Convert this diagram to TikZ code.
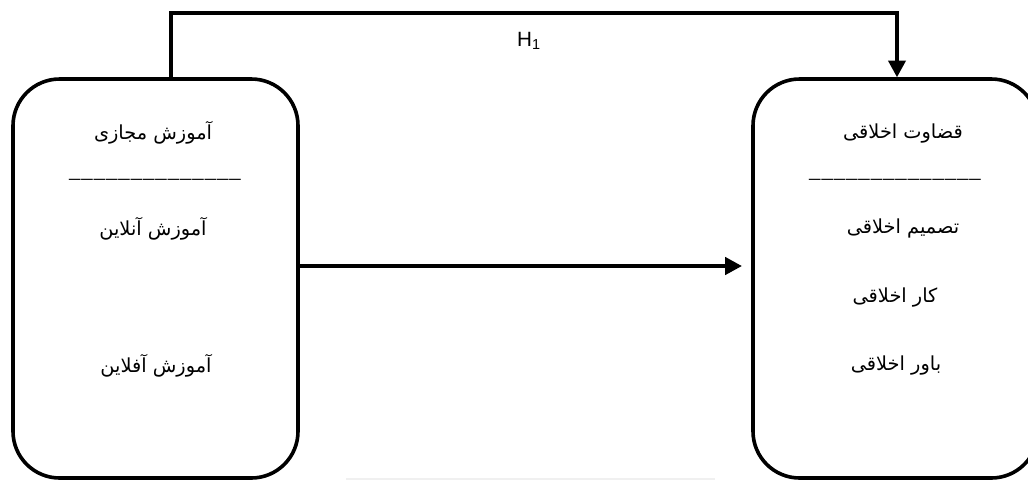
\documentclass[tikz,border=0pt]{standalone}
\usepackage{fontspec}
\setmainfont{Liberation Serif}
\newfontfamily\arabicfont[Script=Arabic]{DejaVu Sans}
\newfontfamily\hfont{Liberation Sans}
\TeXXeTstate=1
\usetikzlibrary{arrows.meta,calc}
\newcommand{\usc}{\_\kern0.75pt}
\tikzset{
  bigbox/.style={draw=black, line width=2.7pt, rounded corners=35pt, minimum width=213.75pt, minimum height=299.25pt, inner sep=0pt},
  conn/.style={draw=black, line width=2.35pt},
  arr/.style={conn, -{Triangle[length=12.5pt,width=13pt]}},
  ar/.style={font=\arabicfont\fontsize{14.5}{16}\selectfont, inner sep=0pt},
  dashline/.style={font=\fontsize{17}{20}\selectfont, inner sep=0pt}
}
\begin{document}
\begin{tikzpicture}[x=0.75pt, y=-0.75pt]
\useasboundingbox (0,0) rectangle (1028,480);
\clip (0,0) rectangle (1028,480);
% faint line at bottom
\draw[gray!12, line width=1.2pt] (346,479) -- (715,479);
% boxes
\node[bigbox] (lbox) at (155.5,278.5) {};
\node[bigbox] (rbox) at (895.5,278.5) {};
% left box texts
\node[ar] (l1) at (153,133) {\beginR آموزش مجازی\endR};
\node[dashline] (ld) at (155,179) {\usc\usc\usc\usc\usc\usc\usc\usc\usc\usc\usc\usc\usc\_};
\node[ar] (l2) at (153,229) {\beginR آموزش آنلاین\endR};
\node[ar] (l3) at (156,366) {\beginR آموزش آفلاین\endR};
% right box texts
\node[ar] (r1) at (903,134) {\beginR قضاوت اخلاقی\endR};
\node[dashline] (rd) at (895,179) {\usc\usc\usc\usc\usc\usc\usc\usc\usc\usc\usc\usc\usc\_};
\node[ar] (r2) at (903,228) {\beginR تصمیم اخلاقی\endR};
\node[ar] (r3) at (895,298) {\beginR کار اخلاقی\endR};
\node[ar] (r4) at (896,366) {\beginR باور اخلاقی\endR};
% connectors
\coordinate (tl) at (171,13);
\coordinate (tr) at (897,13);
\draw[arr] (lbox.north -| tl) -- (tl) -- (tr) -- (rbox.north -| tr);
\node[font=\hfont\fontsize{15.5}{17}\selectfont, inner sep=0pt] (h1) at (529,41) {H\textsubscript{1}};
\coordinate (my) at (0,266);
\draw[arr, shorten >=7pt] (lbox.east |- my) -- (rbox.west |- my);
\end{tikzpicture}
\end{document}
